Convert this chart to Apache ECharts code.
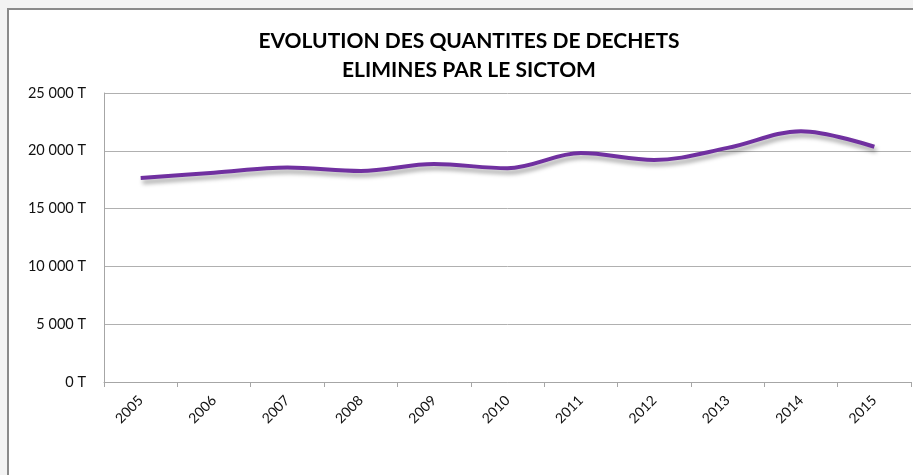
<!DOCTYPE html>
<html>
<head>
<meta charset="utf-8">
<script src="https://cdn.jsdelivr.net/npm/echarts@6/dist/echarts.min.js"></script>
<style>
  html, body { margin: 0; padding: 0; background: #f3f3f3; }
  #chart { width: 913px; height: 475px; }
</style>
</head>
<body>
<div id="chart"></div>
<script>
  var years = ['2005','2006','2007','2008','2009','2010','2011','2012','2013','2014','2015'];
  var tonnes = [17650, 18100, 18550, 18250, 18850, 18500, 19800, 19200, 20250, 21700, 20350];
  var yTicks = [0, 5000, 10000, 15000, 20000, 25000];

  function fmt(v) {
    return String(v).replace(/\B(?=(\d{3})+(?!\d))/g, ' ') + ' T';
  }

  var chart = echarts.init(document.getElementById('chart'));
  var option = {
    backgroundColor: '#f3f3f3',
    animation: false,
    graphic: [
      {
        type: 'rect',
        shape: { x: 8, y: 9, width: 920, height: 480 },
        style: { fill: '#ffffff', stroke: '#8a8a8a', lineWidth: 2 },
        z: -10
      }
    ],
    title: {
      text: 'EVOLUTION DES QUANTITES DE DECHETS\nELIMINES PAR LE SICTOM',
      left: 464,
      textAlign: 'center',
      top: 22,
      textStyle: {
        fontFamily: 'Lato',
        fontWeight: 'bold',
        fontSize: 21,
        lineHeight: 29,
        color: '#000'
      }
    },
    grid: { left: 104, right: 2, top: 93, bottom: 93 },
    xAxis: {
      type: 'category',
      data: years,
      boundaryGap: true,
      axisLine: { lineStyle: { color: '#a6a6a6' } },
      axisTick: { show: true, length: 5, lineStyle: { color: '#a6a6a6' } },
      axisLabel: {
        rotate: 45,
        margin: 16,
        fontFamily: 'Lato',
        fontSize: 14,
        color: '#111'
      }
    },
    yAxis: {
      type: 'value',
      min: yTicks[0],
      max: yTicks[yTicks.length - 1],
      interval: 5000,
      axisLine: { show: true, lineStyle: { color: '#a6a6a6' } },
      axisTick: { show: false },
      splitLine: { lineStyle: { color: '#b0b0b0' } },
      axisLabel: {
        margin: 18,
        fontFamily: 'Lato',
        fontSize: 14.5,
        color: '#111',
        formatter: fmt
      }
    },
    series: [
      {
        type: 'line',
        data: tonnes,
        smooth: 0.35,
        symbol: 'none',
        lineStyle: {
          color: '#7030a0',
          width: 4,
          shadowColor: 'rgba(0,0,0,0.35)',
          shadowBlur: 4,
          shadowOffsetX: 2,
          shadowOffsetY: 4
        }
      }
    ]
  };
  chart.setOption(option);
</script>
</body>
</html>
